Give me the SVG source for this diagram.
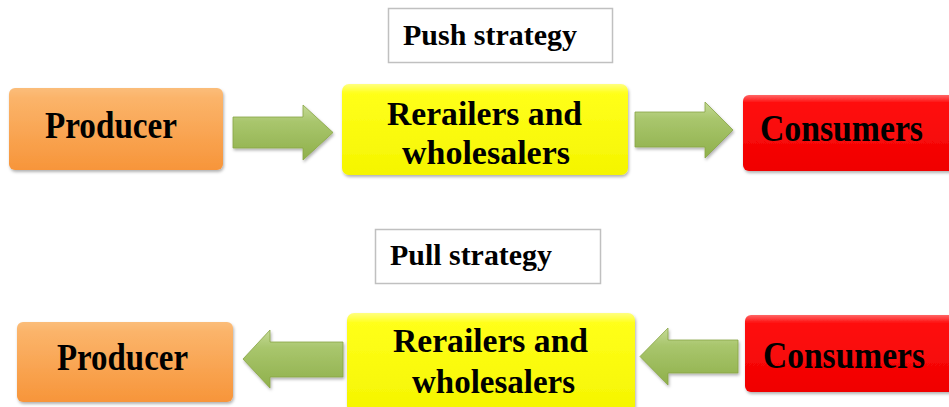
<svg xmlns="http://www.w3.org/2000/svg" width="949" height="407" viewBox="0 0 949 407">
<defs>
<linearGradient id="gOrange" x1="0" y1="0" x2="0" y2="1">
<stop offset="0" stop-color="#fbbd7a"/>
<stop offset="0.12" stop-color="#fbb46a"/>
<stop offset="1" stop-color="#f7953a"/>
</linearGradient>
<linearGradient id="gYellow" x1="0" y1="0" x2="0" y2="1">
<stop offset="0" stop-color="#ffff80"/>
<stop offset="0.1" stop-color="#ffff1a"/>
<stop offset="1" stop-color="#f5f500"/>
</linearGradient>
<linearGradient id="gRed" x1="0" y1="0" x2="0" y2="1">
<stop offset="0" stop-color="#ff6666"/>
<stop offset="0.1" stop-color="#ff1010"/>
<stop offset="1" stop-color="#f00000"/>
</linearGradient>
<linearGradient id="gGreen" x1="0" y1="0" x2="0" y2="1">
<stop offset="0" stop-color="#c5da97"/>
<stop offset="0.3" stop-color="#a9c66d"/>
<stop offset="1" stop-color="#8fb04b"/>
</linearGradient>
<filter id="sh" x="-10%" y="-10%" width="120%" height="130%">
<feDropShadow dx="1" dy="2" stdDeviation="1.5" flood-color="#000" flood-opacity="0.3"/>
</filter>
</defs>
<style>
.lbl{font-family:"Liberation Serif","Times New Roman",serif;font-weight:bold;fill:#000}
.big{font-size:38px}
.mid{font-size:34px}
.cap{font-size:30px}
.cap-box{fill:#fff;stroke:#c0c0c0;stroke-width:1.5}
.arrow{fill:url(#gGreen);stroke:#88a544;stroke-width:0.8;filter:url(#sh)}
</style>

<g id="push-label">
<rect class="cap-box" x="388.5" y="8.5" width="224" height="54"/>
<text class="lbl cap" x="403" y="45" textLength="174" lengthAdjust="spacingAndGlyphs">Push strategy</text>
</g>
<g id="pull-label">
<rect class="cap-box" x="375.5" y="229.5" width="225" height="54"/>
<text class="lbl cap" x="390" y="265" textLength="162" lengthAdjust="spacingAndGlyphs">Pull strategy</text>
</g>

<g id="producer-push">
<rect x="9" y="88" width="214" height="82" rx="6" fill="url(#gOrange)" filter="url(#sh)"/>
<text class="lbl big" x="45" y="138" textLength="132" lengthAdjust="spacingAndGlyphs">Producer</text>
</g>
<g id="retail-push">
<rect x="342" y="84" width="286" height="91" rx="7" fill="url(#gYellow)" filter="url(#sh)"/>
<text class="lbl mid" x="387" y="125" textLength="195" lengthAdjust="spacingAndGlyphs">Rerailers and</text>
<text class="lbl mid" x="402" y="164" textLength="168" lengthAdjust="spacingAndGlyphs">wholesalers</text>
</g>
<g id="consumers-push">
<rect x="743" y="95" width="214" height="76" rx="6" fill="url(#gRed)" filter="url(#sh)"/>
<text class="lbl big" x="760" y="141" textLength="163" lengthAdjust="spacingAndGlyphs">Consumers</text>
</g>

<g id="producer-pull">
<rect x="17" y="322" width="216" height="80" rx="6" fill="url(#gOrange)" filter="url(#sh)"/>
<text class="lbl big" x="57" y="370" textLength="131" lengthAdjust="spacingAndGlyphs">Producer</text>
</g>
<g id="retail-pull">
<rect x="347" y="313" width="288" height="100" rx="7" fill="url(#gYellow)" filter="url(#sh)"/>
<text class="lbl mid" x="393" y="352" textLength="195" lengthAdjust="spacingAndGlyphs">Rerailers and</text>
<text class="lbl mid" x="412" y="393" textLength="163" lengthAdjust="spacingAndGlyphs">wholesalers</text>
</g>
<g id="consumers-pull">
<rect x="745" y="315" width="214" height="77" rx="6" fill="url(#gRed)" filter="url(#sh)"/>
<text class="lbl big" x="763" y="368" textLength="162" lengthAdjust="spacingAndGlyphs">Consumers</text>
</g>

<g id="connectors">
<path class="arrow" d="M233,117 H303 V105 L333,132.5 L303,160 V148 H233 Z"/>
<path class="arrow" d="M635,112 H705 V102 L733,130 L705,158 V147 H635 Z"/>
<path class="arrow" d="M343,342 H270 V330 L243,359 L270,388 V377 H343 Z"/>
<path class="arrow" d="M738,340 H668 V328 L640,356.5 L668,385 V373 H738 Z"/>
</g>
</svg>
